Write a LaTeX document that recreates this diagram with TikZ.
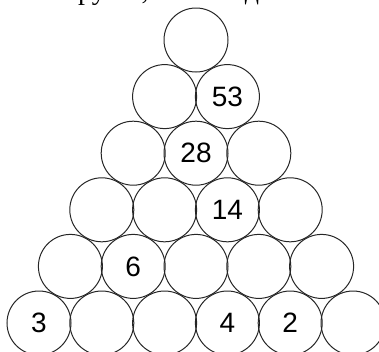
\documentclass[tikz,border=0pt]{standalone}
\usepackage{fontspec}
\setmainfont{Liberation Serif}
\setsansfont{Liberation Sans}
\usepackage{tikz}
\tikzset{ball/.style={circle,draw=black!85,line width=1pt,minimum size=64pt,inner sep=0pt},
  num/.style={font=\sffamily\fontsize{28}{28}\selectfont},
  frag/.style={anchor=base,inner sep=0pt,font=\fontsize{28}{28}\selectfont}}

\begin{document}
\begin{tikzpicture}[x=1pt,y=-1pt]
\useasboundingbox (0,0) rectangle (379,351);
\clip (0,0) rectangle (379,351);
% cut-off line of text above the picture
\node[frag] (t1) at (-5,-1) {к};
\node[frag] (t2) at (92,-1) {ру};
\node[frag] (t3) at (145,-1) {,};
\node[frag] (t4) at (252,-1) {д};
% pyramid of circles
\foreach \r in {1,...,6}
  \foreach \c in {1,...,\r}
    \node[ball] (c\r\c) at ({196+62.8*(\c-(\r+1)/2)},{40+56.6*(\r-1)}) {};
\node[num] at (c22) {53};
\node[num] at (c32) {28};
\node[num] at (c43) {14};
\node[num] at (c52) {6};
\node[num] at (c61) {3};
\node[num] at (c64) {4};
\node[num] at (c65) {2};
\end{tikzpicture}
\end{document}
